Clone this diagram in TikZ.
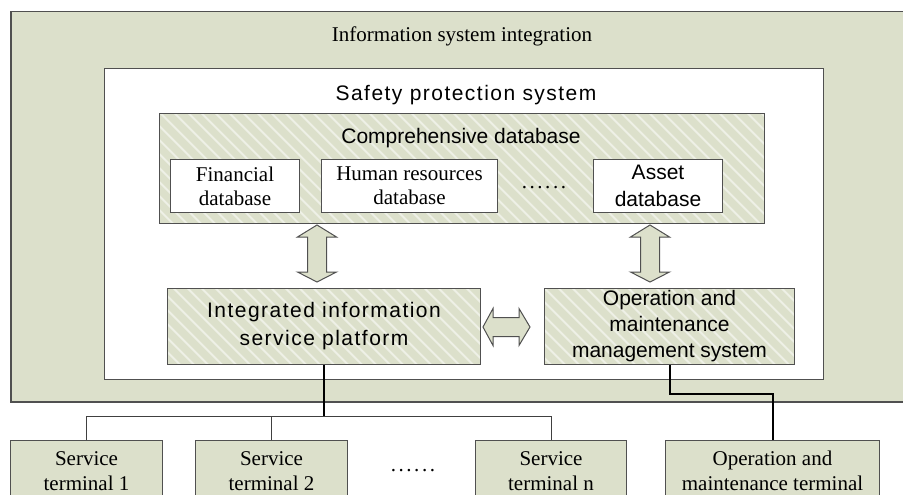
\documentclass[tikz,border=0pt]{standalone}
\usepackage{fontspec}
\setmainfont{Liberation Serif}
\newfontfamily\arialA{Liberation Sans}
\usetikzlibrary{patterns.meta,calc}
\definecolor{boxgreen}{HTML}{DCE0CB}
\definecolor{stripe}{HTML}{EEF0E6}
\definecolor{edge}{HTML}{505050}
\newcommand\VArrow[2]{\draw[blockarrow] (#1) -- ++(19.5,12) -- ++(-10,0) -- ($(#2)+(9.5,-10)$) -- ++(10,0) -- (#2) -- ++(-19.5,-10) -- ++(10,0) -- ($(#1)+(-9.5,12)$) -- ++(-10,0) -- cycle;}
\newcommand\HArrow[2]{\draw[blockarrow] (#1) -- ++(10,-18.5) -- ++(0,9) -- ($(#2)+(-11,-9.5)$) -- ++(0,-9) -- (#2) -- ++(-11,18.5) -- ++(0,-9) -- ($(#1)+(10,9.5)$) -- ++(0,9) -- cycle;}
\tikzset{
  box/.style={draw=edge,line width=1pt,inner sep=0pt,anchor=north west,align=center},
  greenbox/.style={box,fill=boxgreen},
  whitebox/.style={box,fill=white},
  hatchbox/.style={box,preaction={fill=boxgreen},pattern={Lines[angle=-45,distance=10.5pt,line width=2.2pt]},pattern color=stripe},
  serif/.style={font=\fontsize{21}{24}\selectfont},
  serifT/.style={font=\fontsize{21}{25}\selectfont},
  dots/.style={font=\fontsize{21}{24}\selectfont\addfontfeature{LetterSpace=12}},
  sans/.style={font=\arialA\fontsize{21}{27}\selectfont},
  sansI/.style={font=\arialA\fontsize{21}{28}\selectfont},
  sansO/.style={font=\arialA\fontsize{21}{26}\selectfont},
  blockarrow/.style={draw=edge,line width=1pt,fill=boxgreen,line join=miter},
  thickline/.style={draw=black,line width=2pt},
  thinline/.style={draw=black!75,line width=1pt},
}
\begin{document}
\begin{tikzpicture}[x=1pt,y=-1pt]
\useasboundingbox (0,0) rectangle (903,495);
\clip (0,0) rectangle (903,495);
% containers
\node[greenbox,line width=1.5pt,minimum width=900pt,minimum height=390pt] (outer) at (10,11) {};
\node[serif,anchor=base] (title) at (462,42) {Information system integration};
\node[whitebox,minimum width=719pt,minimum height=311pt] (safetybox) at (104,68) {};
\node[sans,anchor=base] (safety) at (466,100) {\addfontfeature{LetterSpace=7}Safety protection system};
\node[hatchbox,minimum width=605pt,minimum height=110pt] (comp) at (158,112) {};
\node[sans,anchor=base] (comptitle) at (461,143) {Comprehensive database};
% databases
\node[whitebox,serif,minimum width=129pt,minimum height=53pt] (fin) at (170,159) {Financial\\database};
\node[whitebox,serif,minimum width=176pt,minimum height=53pt] (hr) at (321,159) {Human resources\\database};
\node[dots,anchor=base] (dbdots) at (544,188) {......};
\node[whitebox,sans,minimum width=129pt,minimum height=53pt] (asset) at (593,159) {Asset\\database};
% platforms
\node[hatchbox,sansI,minimum width=313pt,minimum height=76pt] (integ) at (167,288) {\addfontfeature{LetterSpace=7}Integrated information\\\addfontfeature{LetterSpace=7}service platform};
\node[hatchbox,sansO,minimum width=250pt,minimum height=76pt] (ops) at (544,288) {Operation and\\maintenance\\management system};
% block arrows
\coordinate (v1t) at (317,225);
\coordinate (v1b) at (317,282);
\coordinate (v2t) at (650,225);
\coordinate (v2b) at (650,282);
\coordinate (hl) at (483,327);
\coordinate (hr2) at (530,327);
\VArrow{v1t}{v1b}
\VArrow{v2t}{v2b}
\HArrow{hl}{hr2}
% terminals
\node[greenbox,serifT,minimum width=152pt,minimum height=61pt] (t1) at (10,440) {Service\\terminal 1};
\node[greenbox,serifT,minimum width=152pt,minimum height=61pt] (t2) at (195,440) {Service\\terminal 2};
\node[dots,anchor=base] (tdots) at (413,471) {......};
\node[greenbox,serifT,minimum width=151pt,minimum height=61pt] (tn) at (475,440) {Service\\terminal n};
\node[greenbox,serifT,minimum width=214pt,minimum height=61pt] (omt) at (665,440) {Operation and\\maintenance terminal};
% connectors
\coordinate (bus) at (323,416);
\coordinate (oc) at (669,394);
\draw[thinline] (t1.north) -- (t1.north |- bus) -- (tn.north |- bus) -- (tn.north);
\draw[thinline] (t2.north) -- (t2.north |- bus);
\draw[thickline] (integ.south) -- (integ.south |- bus);
\draw[thickline] (ops.south) -- (ops.south |- oc) -- (omt.north |- oc) -- (omt.north);
\end{tikzpicture}
\end{document}
